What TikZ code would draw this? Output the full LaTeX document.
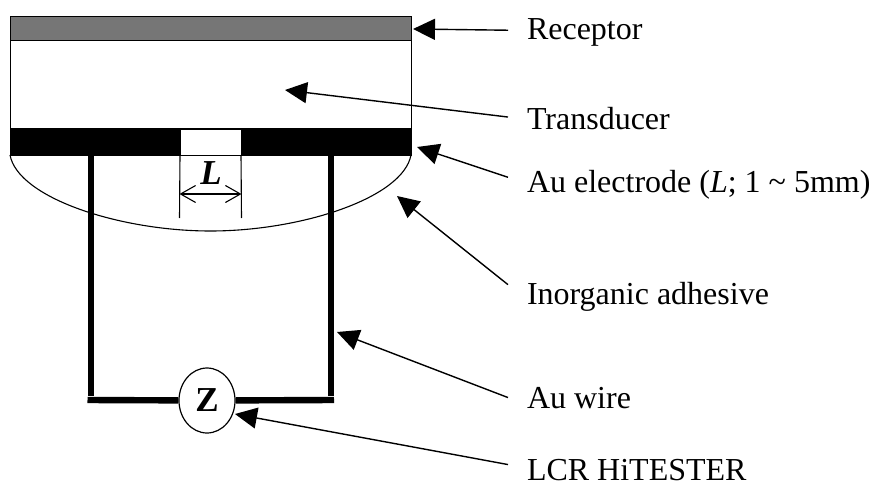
\documentclass[tikz,border=0pt]{standalone}
\usepackage{fontspec}
\setmainfont{Liberation Serif}
\usetikzlibrary{positioning,arrows.meta,calc,shapes.geometric}
\definecolor{receptorfill}{RGB}{118,118,118}
\tikzset{
  layer/.style={draw, line width=0.9pt, minimum width=401pt, inner sep=0pt, outer sep=0pt},
  lab/.style={font=\fontsize{32}{36}\selectfont, anchor=base west, inner sep=0pt, outer sep=0pt},
  callout/.style={-{Triangle[length=22pt,width=21pt]}, line width=1.4pt},
  wire/.style={line width=6.8pt},
  gapline/.style={line width=1.1pt},
}

\begin{document}
\begin{tikzpicture}[x=1pt,y=-1pt]
  \useasboundingbox (0,0) rectangle (877,489);

  % sensor layers
  \node[layer, fill=receptorfill, minimum height=24pt] (rec) at (210.5,28) {};
  \node[layer, below=0pt of rec, minimum height=88pt] (trans) {};
  \node[layer, fill=black, below=0pt of trans, minimum height=27pt] (elec) {};
  \node[fill=white, inner sep=0pt, outer sep=0pt, minimum width=60pt, minimum height=25pt,
        anchor=south] (gap) at (210.5,155) {};

  % adhesive
  \draw[line width=1.1pt] (elec.south west) .. controls (18,198) and (120,231) .. (210.5,231)
    .. controls (301,231) and (403,198) .. (elec.south east);

  % gap width
  \coordinate (gl) at (179.5,218);
  \coordinate (gr) at (241.5,218);
  \draw[gapline] (gap.south west) ++(-0.5,0) -- (gl);
  \draw[gapline] (gap.south east) ++(0.5,0) -- (gr);
  \coordinate (al) at (179.5,194);
  \coordinate (ar) at (241.5,194);
  \draw[{Straight Barb[length=15pt,width=17pt]}-{Straight Barb[length=15pt,width=17pt]}, line width=1.1pt] (al) -- (ar);
  \node[font=\fontsize{35}{35}\selectfont\bfseries\itshape, inner sep=0pt] (len) at (211,173.5) {L};

  % wires and meter
  \node[draw, ellipse, line width=1.2pt, fill=white, minimum width=56pt, minimum height=65pt,
        inner sep=0pt, font=\fontsize{35}{35}\selectfont\bfseries] (z) at (207,400.5) {Z};
  \coordinate (wl) at (91,155);
  \coordinate (wr) at (331,155);
  \coordinate (cl) at (87.5,400);
  \coordinate (cr) at (334,400);
  \draw[wire] (wl) -- (91,396);
  \draw[wire] (wr) -- (331,396);
  \draw[wire, line width=6.4pt] (cl) -- (z);
  \draw[wire, line width=6.4pt] (z) -- (cr);

  % labels
  \node[lab] (lrec) at (527,40) {Receptor};
  \node[lab] (ltrans) at (527,130) {Transducer};
  \node[lab] (lelec) at (527,192) {Au electrode (\textit{L}; 1 \textasciitilde{} 5mm)};
  \node[lab] (lino) at (527,304) {Inorganic adhesive};
  \node[lab] (lwire) at (527,408) {Au wire};
  \node[lab] (llcr) at (527,480) {LCR HiTESTER};

  % arrows
  \coordinate (trec) at (413,29);
  \coordinate (ttrans) at (285,90);
  \coordinate (telec) at (417,147);
  \coordinate (tino) at (397,196);
  \coordinate (twire) at (337,332);
  \coordinate (tlcr) at (235,414);
  \draw[callout] ($(lrec.west)+(-19,-2.7)$) -- (trec);
  \draw[callout] ($(ltrans.west)+(-19,-2)$) -- (ttrans);
  \draw[callout] ($(lelec.west)+(-19,-7)$) -- (telec);
  \draw[callout] ($(lino.west)+(-19,-11.7)$) -- (tino);
  \draw[callout] ($(lwire.west)+(-19,0)$) -- (twire);
  \draw[callout] ($(llcr.west)+(-19,-5)$) -- (tlcr);
\end{tikzpicture}
\end{document}
